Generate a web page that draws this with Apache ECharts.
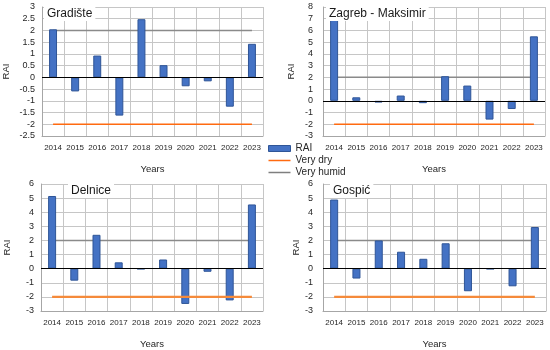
<!DOCTYPE html>
<html><head><meta charset="utf-8">
<script src="https://cdn.jsdelivr.net/npm/echarts@6/dist/echarts.min.js"></script>
<style>html,body{margin:0;padding:0;background:#fff}#c{width:550px;height:350px}</style>
</head><body><div id="c"></div>
<script>
const years = ['2014','2015','2016','2017','2018','2019','2020','2021','2022','2023'];
const stations = ['Gradište','Zagreb - Maksimir','Delnice','Gospić'];
const gradiste = [2.05,-0.6,0.93,-1.63,2.48,0.52,-0.38,-0.17,-1.25,1.43];
const zagreb = [7.05,0.3,-0.15,0.45,-0.2,2.1,1.3,-1.6,-0.7,5.5];
const delnice = [5.15,-0.85,2.4,0.45,-0.03,0.65,-2.5,-0.22,-2.25,4.55];
const gospic = [4.9,-0.7,2.0,1.2,0.7,1.8,-1.6,-0.03,-1.25,2.95];
const veryDry = -2;
const veryHumid = 2;
const yMin = [-2.5,-3,-3,-3];
const yMax = [3,8,6,6];
const yStep = [0.5,1,1,1];

const series_values = [gradiste, zagreb, delnice, gospic];
const grids = [
  {left:41, top:7, width:222, height:129},
  {left:323, top:7, width:222, height:129},
  {left:41, top:184, width:222, height:128},
  {left:323, top:184, width:223, height:128}
];
const titlePos = [
  {left:44, top:7}, {left:326, top:7}, {left:68, top:184}, {left:330, top:184}
];
const yNameGap = [31, 27, 29, 21];
const dryColor = ['#ff6a10','#ff6a10','#f58a3a','#f58a3a'];
const dryWidth = [1.5,1.5,2.2,2.2];
const font = 'Liberation Sans, Arial, sans-serif';

const xAxis = [], yAxis = [], series = [], title = [];
for (let i = 0; i < 4; i++) {
  xAxis.push({
    type:'category', gridIndex:i, data:years, boundaryGap:true,
    axisLine:{show:true, onZero:false, lineStyle:{color:'#a6a6a6'}},
    axisTick:{show:false},
    axisLabel:{interval:0, fontSize:8, color:'#262626', margin:8, fontFamily:font},
    splitLine:{show:true, interval:0, lineStyle:{color:'#c6c6c6', width:1}},
    name:'Years', nameLocation:'middle', nameGap:28,
    nameTextStyle:{fontSize:9.5, color:'#262626', fontFamily:font}
  });
  yAxis.push({
    type:'value', gridIndex:i, min:yMin[i], max:yMax[i], interval:yStep[i],
    axisLine:{show:true, lineStyle:{color:'#a6a6a6'}},
    axisTick:{show:false},
    axisLabel:{fontSize:9, color:'#262626', margin:i%2?10:7, fontFamily:font},
    splitLine:{show:true, lineStyle:{color:'#c6c6c6', width:1}},
    name:'RAI', nameLocation:'middle', nameGap:yNameGap[i],
    nameTextStyle:{fontSize:9.5, color:'#262626', fontFamily:font}
  });
  series.push({
    name:'RAI', type:'bar', xAxisIndex:i, yAxisIndex:i, data:series_values[i],
    barWidth:'36%',
    itemStyle:{color:'#4472c4', borderColor:'#2f5597', borderWidth:1},
    markLine:{silent:true, symbol:'none', label:{show:false},
      lineStyle:{color:'#000', width:1, type:'solid'}, data:[{yAxis:0}]},
    z:3
  });
  series.push({
    name:'Very dry', type:'line', xAxisIndex:i, yAxisIndex:i,
    data:years.map(()=>veryDry), symbol:'none', silent:true,
    lineStyle:{color:dryColor[i], width:dryWidth[i]}, itemStyle:{color:'#ff6a10'}, z:4
  });
  series.push({
    name:'Very humid', type:'line', xAxisIndex:i, yAxisIndex:i,
    data:years.map(()=>veryHumid), symbol:'none', silent:true,
    lineStyle:{color:'#8a8a8a', width:1.5}, itemStyle:{color:'#7f7f7f'}, z:2
  });
  title.push({
    text:stations[i], left:titlePos[i].left, top:titlePos[i].top,
    backgroundColor:'#fff', padding:[1,3,1,3],
    textStyle:{fontSize:12, fontWeight:'normal', color:'#1a1a1a', fontFamily:font}, z:10
  });
}

const linePath = 'path://M0,0h44v3h-44z';
const chart = echarts.init(document.getElementById('c'), null, {renderer:'canvas'});
chart.setOption({
  animation:false,
  title: title,
  grid: grids,
  xAxis: xAxis,
  yAxis: yAxis,
  legend: {
    orient:'vertical', left:268, top:143, itemWidth:22, itemHeight:6, itemGap:1,
    padding:0, symbolKeepAspect:true,
    textStyle:{fontSize:10, lineHeight:11, color:'#262626', fontFamily:font},
    data:[
      {name:'RAI', icon:'rect', itemStyle:{color:'#4472c4', borderColor:'#2f5597', borderWidth:1}},
      {name:'Very dry', icon:linePath, itemStyle:{color:'#ff6a10', borderWidth:0}, lineStyle:{width:0}},
      {name:'Very humid', icon:linePath, itemStyle:{color:'#7f7f7f', borderWidth:0}, lineStyle:{width:0}}
    ]
  },
  series: series
});
</script></body></html>
